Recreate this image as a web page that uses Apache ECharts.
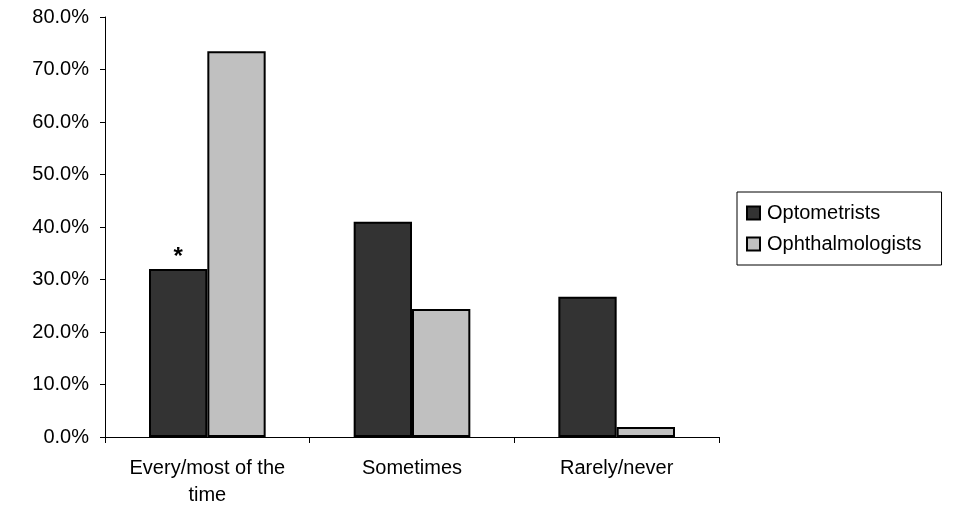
<!DOCTYPE html>
<html>
<head>
<meta charset="utf-8">
<script src="https://cdn.jsdelivr.net/npm/echarts@6/dist/echarts.min.js"></script>
<style>
  html, body { margin: 0; padding: 0; background: #fff; }
  #chart { width: 960px; height: 527px; }
</style>
</head>
<body>
<div id="chart"></div>
<script>
// data
const categories = ['Every/most of the\ntime', 'Sometimes', 'Rarely/never']
const optometrists = [32.0, 41.0, 26.7]
const ophthalmologists = [73.5, 24.4, 1.9]
const yTicks = { min: 0, max: 80, interval: 10 }

const chart = echarts.init(document.getElementById('chart'))

const font = 'Liberation Sans, Arial, sans-serif'

// asterisk marks the first optometrist bar
const optoData = optometrists.map((v, i) => i === 0
  ? { value: v, label: { show: true, position: 'top', formatter: '*', fontSize: 24, fontWeight: 'bold', color: '#000', distance: 0 } }
  : v)

chart.setOption({
  animation: false,
  backgroundColor: '#fff',
  grid: { left: 105, right: 241, top: 17, bottom: 90 },
  legend: {
    orient: 'vertical',
    left: 737,
    top: 192,
    itemWidth: 13,
    itemHeight: 13,
    itemGap: 11,
    padding: [11, 20, 11, 9],
    borderColor: '#000',
    borderWidth: 1,
    icon: 'rect',
    textStyle: { fontFamily: font, fontSize: 20, color: '#000', padding: [0, 0, 0, 2] },
    data: ['Optometrists', 'Ophthalmologists']
  },
  xAxis: {
    type: 'category',
    data: categories,
    axisLine: { lineStyle: { color: '#000', width: 1 } },
    axisTick: { show: true, length: 6, lineStyle: { color: '#000' } },
    axisLabel: { color: '#000', fontFamily: font, fontSize: 20, margin: 18, lineHeight: 27 },
    splitLine: { show: false }
  },
  yAxis: {
    type: 'value',
    min: yTicks.min,
    max: yTicks.max,
    interval: yTicks.interval,
    axisLine: { show: true, lineStyle: { color: '#000', width: 1 } },
    axisTick: { show: true, length: 5, lineStyle: { color: '#000' } },
    axisLabel: { color: '#000', fontFamily: font, fontSize: 20, margin: 16, formatter: v => v.toFixed(1) + '%' },
    splitLine: { show: false }
  },
  series: [
    {
      name: 'Optometrists',
      type: 'bar',
      data: optoData,
      barGap: '0%',
      barCategoryGap: '43%',
      itemStyle: { color: '#333333', borderColor: '#000', borderWidth: 2 }
    },
    {
      name: 'Ophthalmologists',
      type: 'bar',
      data: ophthalmologists,
      itemStyle: { color: '#c0c0c0', borderColor: '#000', borderWidth: 2 }
    }
  ]
})
</script>
</body>
</html>
